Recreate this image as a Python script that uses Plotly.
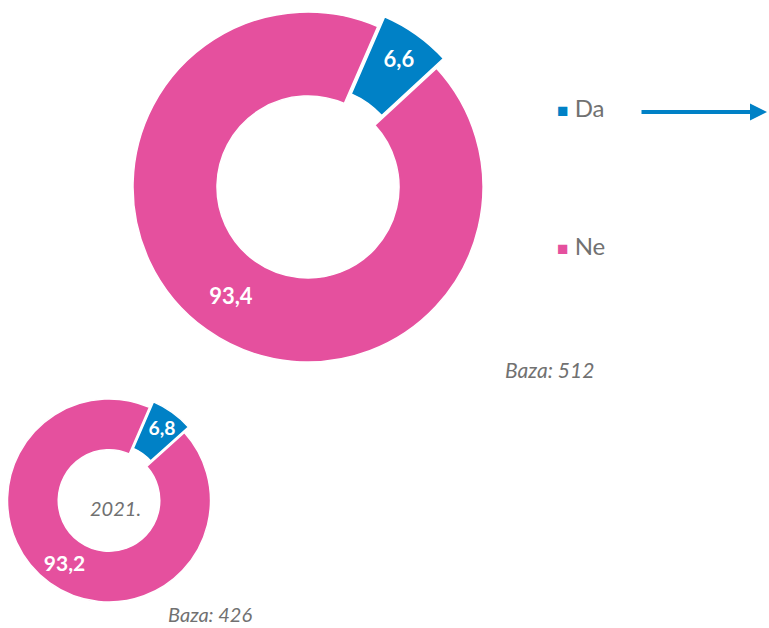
import plotly.graph_objects as go

labels = ["Da", "Ne"]
values_2023 = [6.6, 93.4]
values_2021 = [6.8, 93.2]
base_2023 = "Baza: 512"
base_2021 = "Baza: 426"
year_label = "2021."

BLUE = "#0081C6"
PINK = "#E5509E"
GREY = "#717171"
FONT = "Lato, 'Open Sans', sans-serif"

W, H = 769, 628
PULL = 0.068


def px_dom_x(a, b):
    return [max(0, a / W), min(1, b / W)]


def px_dom_y(top, bottom):
    return [max(0, 1 - bottom / H), min(1, 1 - top / H)]


def pie_box(cx, cy, r):
    half = r * (1 + PULL)
    return dict(x=px_dom_x(cx - half, cx + half), y=px_dom_y(cy - half, cy + half))


def common(font_size):
    return dict(
        labels=labels,
        sort=False,
        direction="clockwise",
        rotation=23.5,
        pull=[PULL, 0],
        marker=dict(colors=[BLUE, PINK], line=dict(color="white", width=1.5)),
        texttemplate="<b>%{value:.1f}</b>",
        textposition="inside",
        insidetextorientation="horizontal",
        insidetextfont=dict(color="white", size=font_size, family=FONT),
        showlegend=False,
        hoverinfo="label+value",
    )


fig = go.Figure()
fig.add_trace(go.Pie(values=values_2023, hole=0.52,
                     domain=pie_box(308, 187, 175), **common(22)))
fig.add_trace(go.Pie(values=values_2021, hole=0.5,
                     domain=pie_box(109, 500.5, 101.5), **common(21)))

ann = []
# legend
for lab, col, ypx in [("Da", BLUE, 107.5), ("Ne", PINK, 245.5)]:
    ann.append(dict(x=555 / W, y=1 - ypx / H, xref="paper", yref="paper", xanchor="left", yanchor="middle",
                    text=f"<span style='color:{col};font-size:19px'>■</span> {lab}", showarrow=False,
                    font=dict(size=24, color=GREY, family=FONT)))
# arrow
ann.append(dict(x=767 / W, y=1 - 112 / H, xref="paper", yref="paper", text="",
                showarrow=True, ax=-127, ay=0, arrowcolor=BLUE, arrowwidth=4,
                arrowhead=2, arrowsize=0.85))
# bases and year
ann.append(dict(x=549.5 / W, y=1 - 369 / H, xref="paper", yref="paper", xanchor="center", yanchor="middle",
                text=f"<i>{base_2023}</i>", showarrow=False,
                font=dict(size=21, color=GREY, family=FONT)))
ann.append(dict(x=210 / W, y=1 - 627 / H, xref="paper", yref="paper", xanchor="center", yanchor="bottom",
                text=f"<i>{base_2021}</i>", showarrow=False, borderpad=0,
                font=dict(size=20, color=GREY, family=FONT)))
ann.append(dict(x=115 / W, y=1 - 508 / H, xref="paper", yref="paper", xanchor="center", yanchor="middle",
                text=f"<i>{year_label}</i>", showarrow=False,
                font=dict(size=20, color=GREY, family=FONT)))

fig.update_layout(
    width=W, height=H,
    margin=dict(l=0, r=0, t=0, b=0),
    paper_bgcolor="white",
    plot_bgcolor="white",
    separators=",.",
    annotations=ann,
    font=dict(family=FONT),
)

fig.write_html("out.html", config={"displayModeBar": False},
               post_script="document.body.style.margin='0px';")
